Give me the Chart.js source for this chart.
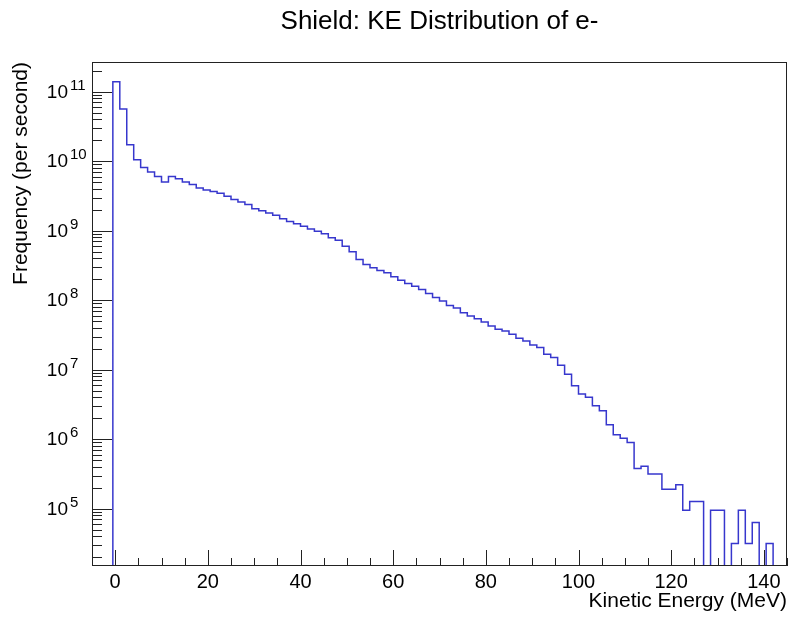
<!DOCTYPE html>
<html>
<head>
<meta charset="utf-8">
<title>Shield: KE Distribution of e-</title>
<script src="https://cdn.jsdelivr.net/npm/chart.js@4.4.1/dist/chart.umd.min.js"></script>
<style>
  html, body { margin: 0; padding: 0; background: #fff; }
</style>
</head>
<body>
<canvas id="keChart" width="790" height="617"></canvas>
<script>
// Histogram binning (100 bins, -5 .. 145 MeV)
const binLow = -5;
const binWidth = 1.5;

// Frequency per bin (per second); 0 = empty bin
const frequency = [
  0, 0, 0, 1.39e11, 5.65e10, 1.72e10, 1.05e10, 8.1e9, 7.0e9, 6.0e9,
  5.0e9, 6.0e9, 5.6e9, 5.0e9, 4.6e9, 4.1e9, 3.85e9, 3.67e9, 3.46e9, 3.12e9,
  2.8e9, 2.59e9, 2.37e9, 2.07e9, 1.94e9, 1.8e9, 1.66e9, 1.49e9, 1.36e9, 1.26e9,
  1.16e9, 1.06e9, 9.8e8, 9.0e8, 7.9e8, 7.3e8, 5.97e8, 4.96e8, 3.85e8, 3.26e8,
  2.93e8, 2.68e8, 2.48e8, 2.17e8, 1.94e8, 1.74e8, 1.59e8, 1.43e8, 1.25e8, 1.09e8,
  9.7e7, 8.4e7, 7.7e7, 6.6e7, 5.9e7, 5.4e7, 4.85e7, 4.25e7, 3.81e7, 3.6e7,
  3.23e7, 2.83e7, 2.59e7, 2.27e7, 2.08e7, 1.67e7, 1.5e7, 1.16e7, 8.6e6, 5.86e6,
  4.46e6, 4.0e6, 3.03e6, 2.57e6, 1.61e6, 1.16e6, 1.03e6, 9.0e5, 3.8e5, 4.1e5,
  3.17e5, 3.17e5, 1.9e5, 1.9e5, 2.22e5, 9.5e4, 1.27e5, 1.27e5, 0, 9.5e4,
  9.5e4, 0, 3.17e4, 9.5e4, 3.17e4, 6.34e4, 0, 3.17e4, 0, 0
];

// Axis ticks
const xTicks = [0, 20, 40, 60, 80, 100, 120, 140];
const yTicks = [1e5, 1e6, 1e7, 1e8, 1e9, 1e10, 1e11];

const xMin = -5, xMax = 145;
const yMin = 1.5e4, yMax = 2.67e11;

const font = "'Liberation Sans', Arial, Helvetica, sans-serif";
const lineColor = 'rgb(55, 55, 205)';

// bin lower edges + closing point, empty bins drop below the frame
const floorValue = yMin / 10;
const points = frequency.map((v, i) => ({ x: binLow + i * binWidth, y: v > 0 ? v : floorValue }));
points.push({ x: binLow + frequency.length * binWidth, y: floorValue });

// ROOT style frame with ticks pointing inwards, 10^n labels
const frameTicks = {
    id: 'frameTicks',
    afterDraw(chart) {
        const { ctx, chartArea: a } = chart;
        const x = chart.scales.x, y = chart.scales.y;
        ctx.save();
        ctx.strokeStyle = '#222';
        ctx.lineWidth = 1;
        ctx.beginPath();
        for (let v = xMin; v <= xMax; v += 5) {
            const px = Math.round(x.getPixelForValue(v)) + 0.5;
            const len = v % 20 === 0 ? 16 : 8;
            ctx.moveTo(px, a.bottom);
            ctx.lineTo(px, a.bottom - len);
        }
        for (let e = 4; e <= 11; e++) {
            for (let m = 1; m <= 9; m++) {
                const v = m * Math.pow(10, e);
                if (v < yMin || v > yMax) continue;
                const py = Math.round(y.getPixelForValue(v)) + 0.5;
                const len = m === 1 ? 20 : 10;
                ctx.moveTo(a.left, py);
                ctx.lineTo(a.left + len, py);
            }
        }
        ctx.stroke();
        ctx.strokeRect(a.left + 0.5, a.top + 0.5, a.right - a.left - 1, a.bottom - a.top - 1);

        // y labels: "10" plus raised exponent
        ctx.fillStyle = '#000';
        y.ticks.forEach(t => {
            const py = y.getPixelForValue(t.value);
            const exp = String(Math.round(Math.log10(t.value)));
            ctx.font = '19px ' + font;
            ctx.textAlign = 'right';
            ctx.textBaseline = 'middle';
            ctx.fillText('10', a.left - 24, py + 1);
            ctx.font = '15px ' + font;
            ctx.textAlign = 'left';
            ctx.textBaseline = 'alphabetic';
            ctx.fillText(exp, a.left - 22, py - 2);
        });
        ctx.restore();
    }
};

let ctx = document.getElementById('keChart').getContext('2d');
new Chart(ctx, {
    type: 'line',
    data: {
        datasets: [{
            data: points,
            borderColor: lineColor,
            borderWidth: 1.5,
            pointRadius: 0,
            stepped: true,
            fill: false,
            tension: 0
        }]
    },
    options: {
        responsive: false,
        animation: false,
        layout: { padding: { top: 0, right: 3, bottom: 0, left: 0 } },
        plugins: {
            legend: { display: false },
            tooltip: { enabled: false },
            title: {
                display: true,
                fullSize: false,
                text: 'Shield: KE Distribution of e-',
                color: '#000',
                font: { family: font, size: 26, weight: 'normal' },
                padding: { top: 6, bottom: 24.8 }
            }
        },
        scales: {
            x: {
                type: 'linear',
                min: xMin,
                max: xMax,
                grid: { display: false, drawTicks: false },
                border: { display: false },
                afterBuildTicks: s => { s.ticks = xTicks.map(v => ({ value: v })); },
                afterFit: s => { s.height = 51; },
                ticks: {
                    color: '#000',
                    font: { family: font, size: 20 },
                    padding: 4,
                    maxRotation: 0,
                    autoSkip: false
                },
                title: {
                    display: true,
                    text: 'Kinetic Energy (MeV)',
                    align: 'end',
                    color: '#000',
                    font: { family: font, size: 21 },
                    padding: { top: 0, bottom: 3 }
                }
            },
            y: {
                type: 'logarithmic',
                min: yMin,
                max: yMax,
                grid: { display: false, drawTicks: false },
                border: { display: false },
                afterBuildTicks: s => { s.ticks = yTicks.map(v => ({ value: v })); },
                afterFit: s => { s.width = 92; },
                ticks: { display: false },
                title: {
                    display: true,
                    text: 'Frequency (per second)',
                    align: 'end',
                    color: '#000',
                    font: { family: font, size: 21 },
                    padding: { top: 9, bottom: 0 }
                }
            }
        }
    },
    plugins: [frameTicks]
});
</script>
</body>
</html>
